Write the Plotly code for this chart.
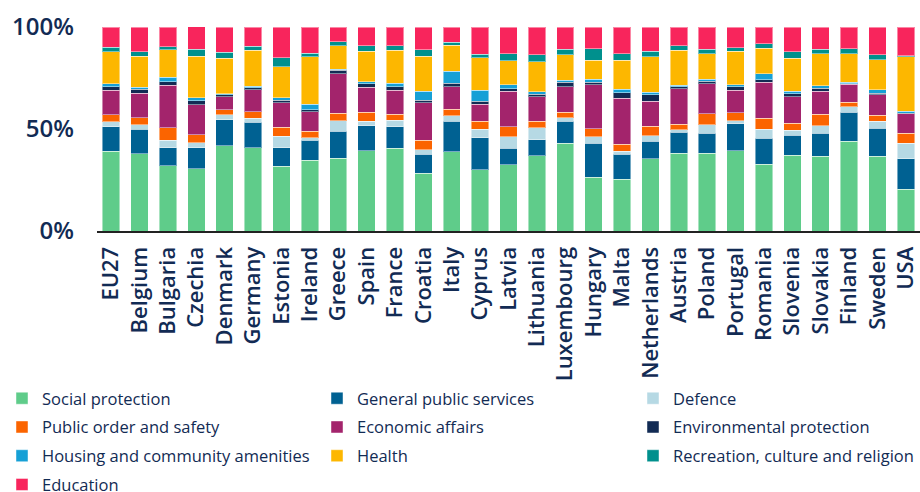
import plotly.graph_objects as go

countries = ["EU27", "Belgium", "Bulgaria", "Czechia", "Denmark", "Germany", "Estonia",
             "Ireland", "Greece", "Spain", "France", "Croatia", "Italy", "Cyprus", "Latvia",
             "Lithuania", "Luxembourg", "Hungary", "Malta", "Netherlands", "Austria", "Poland",
             "Portugal", "Romania", "Slovenia", "Slovakia", "Finland", "Sweden", "USA"]

# Share of total government expenditure by function (%)
social_protection = [39.1, 37.9, 32.0, 30.6, 41.8, 40.8, 31.7, 34.8, 35.6, 39.4, 40.5, 28.4, 38.9, 30.1, 32.4,
                     36.9, 43.1, 26.3, 25.3, 35.3, 38.2, 38.1, 39.4, 32.8, 37.1, 36.6, 44.0, 36.6, 20.4]
general_public_services = [11.9, 12.1, 8.7, 10.1, 12.7, 12.4, 9.1, 9.8, 13.4, 12.1, 10.6, 9.3, 15.0, 15.7, 8.1,
                           7.9, 10.8, 16.8, 12.4, 8.7, 10.3, 9.9, 13.1, 12.6, 9.8, 11.3, 14.3, 13.7, 14.9]
defence = [2.6, 2.0, 3.7, 2.5, 2.6, 2.1, 5.6, 1.0, 5.1, 2.4, 3.1, 2.2, 2.5, 4.2, 5.6,
           5.7, 1.5, 3.1, 1.4, 2.7, 1.2, 4.0, 1.6, 4.6, 2.6, 3.6, 2.5, 3.5, 7.8]
public_order = [3.4, 3.4, 6.2, 4.1, 2.3, 3.1, 4.4, 3.4, 3.7, 4.3, 3.0, 4.5, 3.4, 3.9, 4.9,
                3.4, 2.9, 4.0, 3.4, 4.6, 2.6, 5.4, 3.9, 5.2, 3.4, 5.7, 2.3, 2.9, 4.9]
economic_affairs = [12.1, 12.1, 20.8, 14.5, 6.5, 10.8, 12.1, 9.5, 19.2, 12.2, 11.8, 18.5, 11.0, 8.2, 17.6,
                    11.8, 12.5, 21.5, 22.5, 12.4, 17.5, 14.8, 11.0, 17.7, 12.8, 11.4, 8.8, 10.0, 9.5]
environmental_protection = [1.6, 2.1, 1.8, 2.0, 0.8, 1.0, 1.2, 1.0, 1.8, 1.7, 1.6, 1.2, 1.6, 1.6, 1.2,
                            1.3, 2.2, 1.3, 2.8, 3.0, 1.0, 1.3, 1.6, 1.3, 1.6, 1.5, 0.3, 0.9, 0.2]
housing = [1.6, 0.8, 2.1, 1.5, 0.5, 0.8, 1.1, 2.6, 0.6, 1.1, 1.9, 4.4, 5.9, 5.4, 1.8,
           1.3, 1.0, 1.5, 1.6, 1.3, 0.6, 1.0, 1.1, 2.9, 1.2, 1.1, 0.8, 1.7, 1.1]
health = [15.5, 15.2, 13.6, 20.4, 17.6, 17.5, 15.4, 23.2, 11.4, 15.0, 16.1, 17.1, 12.7, 15.9, 11.9,
          14.7, 12.3, 9.3, 14.4, 17.5, 17.3, 12.3, 16.4, 12.4, 16.3, 15.6, 13.9, 14.7, 26.7]
recreation = [2.3, 2.3, 1.3, 3.3, 2.9, 2.1, 4.4, 1.8, 2.0, 2.5, 2.1, 3.3, 1.6, 1.6, 3.4,
              3.3, 2.8, 5.6, 3.1, 2.6, 2.1, 2.4, 1.8, 2.3, 3.1, 2.3, 2.5, 2.4, 0.5]
education = [9.8, 12.1, 9.8, 11.1, 12.1, 9.3, 15.0, 12.9, 7.2, 9.3, 9.3, 11.1, 7.4, 13.4, 13.1,
             13.7, 10.9, 10.6, 13.1, 11.9, 9.2, 10.8, 10.1, 8.2, 12.1, 10.9, 10.6, 13.6, 14.0]

tick_values = [0, 50, 100]
tick_labels = ["0%", "50%", "100%"]

NAVY = "#122b54"
FONT = "Open Sans"

# (name, values, colour, legend column)
series = [
    ("Social protection", social_protection, "#5fcc8a", "legend"),
    ("General public services", general_public_services, "#006192", "legend2"),
    ("Defence", defence, "#b6d9e4", "legend3"),
    ("Public order and safety", public_order, "#fb6400", "legend"),
    ("Economic affairs", economic_affairs, "#a3246c", "legend2"),
    ("Environmental protection", environmental_protection, "#122b54", "legend3"),
    ("Housing and community amenities", housing, "#16a0d6", "legend"),
    ("Health", health, "#fdb700", "legend2"),
    ("Recreation, culture and religion", recreation, "#00908d", "legend3"),
    ("Education", education, "#f8255c", "legend"),
]

fig = go.Figure()
for name, vals, col, leg in series:
    fig.add_trace(go.Bar(
        x=countries, y=vals, name=name, legend=leg, legendgroup=name,
        marker=dict(color=col, line=dict(color="rgba(255,255,255,0.45)", width=1)),
    ))

# plot area in pixels: x 97..920, y 27..231
L, W, T, H = 97, 823, 27, 204


def px_x(px):
    return (px - L) / W


def px_y(py):
    return (T + H - py) / H


legend_common = dict(
    orientation="v", xref="paper", yref="paper", xanchor="left", yanchor="top",
    y=px_y(381), font=dict(family=FONT, size=16.5, color=NAVY),
    bgcolor="rgba(0,0,0,0)", tracegroupgap=4.3, itemclick=False, itemdoubleclick=False,
)

fig.update_layout(
    width=920, height=492,
    barmode="stack", bargap=0.385,
    plot_bgcolor="white", paper_bgcolor="white",
    margin=dict(l=L, r=0, t=T, b=492 - T - H, autoexpand=False),
    font=dict(family=FONT, color=NAVY),
    legend=dict(x=px_x(2), **legend_common),
    legend2=dict(x=px_x(317), **legend_common),
    legend3=dict(x=px_x(633), **legend_common),
    xaxis=dict(
        tickangle=-90, showgrid=False, showline=True, linecolor="#222222", linewidth=2,
        ticks="", ticklabelstandoff=5,
        tickfont=dict(family=FONT, size=22, color=NAVY, weight=600),
    ),
    yaxis=dict(
        range=[0, 100], tickvals=tick_values, ticktext=tick_labels, showgrid=False,
        zeroline=False, showline=False, ticks="", ticklabelstandoff=22,
        tickfont=dict(family=FONT, size=24, color=NAVY, weight=600),
    ),
)

fig.write_html("out.html")
